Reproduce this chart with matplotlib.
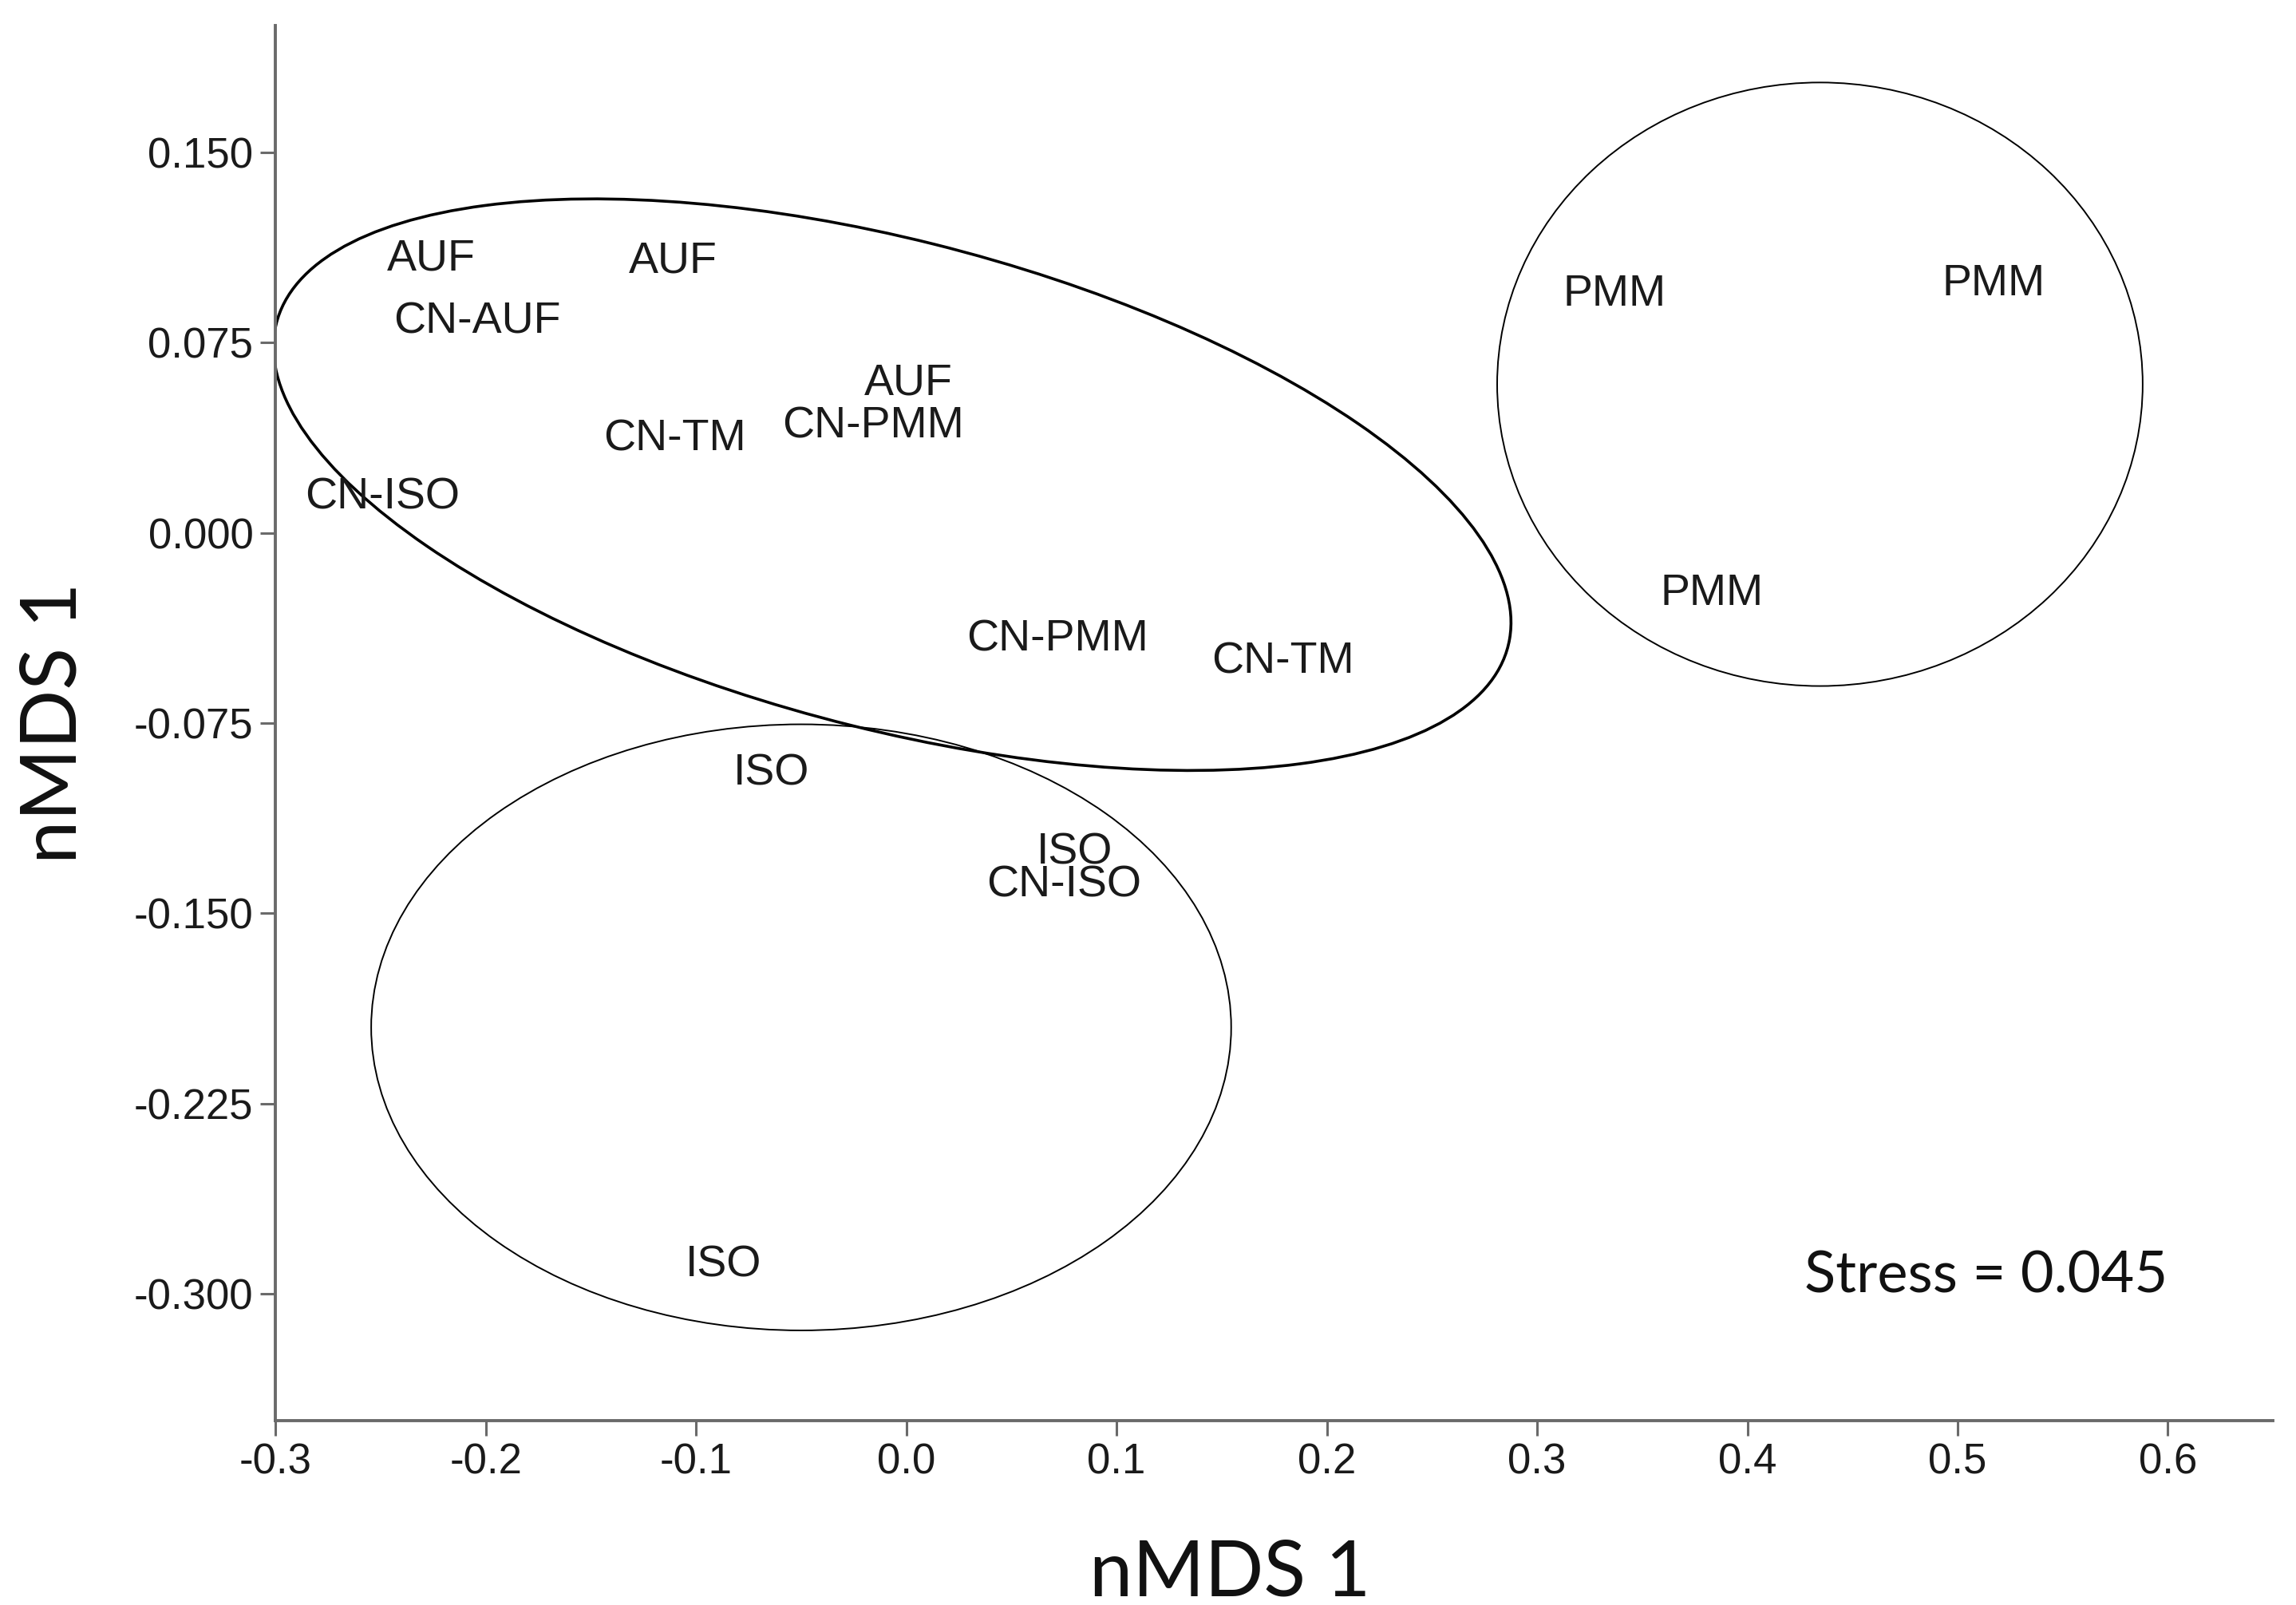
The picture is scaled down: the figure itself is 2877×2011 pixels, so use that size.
import matplotlib.pyplot as plt
from matplotlib.patches import Ellipse

# etiquetas de las muestras y coordenadas nMDS
muestras = ['AUF', 'AUF', 'CN-AUF', 'AUF', 'CN-TM', 'CN-PMM', 'CN-ISO',
            'CN-PMM', 'CN-TM', 'ISO', 'ISO', 'CN-ISO', 'ISO',
            'PMM', 'PMM', 'PMM']
eje_x = [-0.226, -0.111, -0.204, 0.001, -0.110, -0.016, -0.249,
         0.072, 0.179, -0.064, 0.080, 0.075, -0.087,
         0.337, 0.517, 0.383]
eje_y = [0.108, 0.107, 0.083, 0.059, 0.037, 0.042, 0.014,
         -0.042, -0.051, -0.095, -0.126, -0.139, -0.289,
         0.094, 0.098, -0.024]

# elipses de agrupamiento: centro x, centro y, ancho, alto, angulo, grosor
elipse_cx = [-0.0067, -0.050, 0.4345]
elipse_cy = [0.019, -0.195, 0.0586]
elipse_w = [0.5997, 0.409, 0.307]
elipse_h = [0.1938, 0.239, 0.238]
elipse_ang = [-11.7, 0.0, 0.0]
elipse_lw = [2.6, 1.4, 1.4]

ticks_x = [-0.3, -0.2, -0.1, 0.0, 0.1, 0.2, 0.3, 0.4, 0.5, 0.6]
ticks_y = [0.150, 0.075, 0.000, -0.075, -0.150, -0.225, -0.300]

fig = plt.figure(figsize=(28.77, 20.11), dpi=100)
ax = fig.add_axes([0.120, 0.115, 0.870, 0.869])

for i in range(len(muestras)):
    ax.text(eje_x[i], eje_y[i], muestras[i], ha='center', va='center',
            fontsize=40, family='Liberation Sans', color='#1a1a1a')

for i in range(len(elipse_cx)):
    ax.add_patch(Ellipse((elipse_cx[i], elipse_cy[i]), elipse_w[i], elipse_h[i],
                         angle=elipse_ang[i], fill=False, edgecolor='black',
                         linewidth=elipse_lw[i]))

ax.set_xlim(-0.3, 0.65)
ax.set_ylim(-0.35, 0.2)
ax.set_xticks(ticks_x)
ax.set_xticklabels([f'{v:.1f}' for v in ticks_x])
ax.set_yticks(ticks_y)
ax.set_yticklabels([f'{v:.3f}' for v in ticks_y])

for lado in ['top', 'right']:
    ax.spines[lado].set_visible(False)
for lado in ['left', 'bottom']:
    ax.spines[lado].set_color('#6a6a6a')
    ax.spines[lado].set_linewidth(2.8)

ax.tick_params(axis='both', length=14, width=2.2, color='#6a6a6a',
               labelsize=38, labelcolor='#1a1a1a', pad=6)
for etiqueta in ax.get_xticklabels() + ax.get_yticklabels():
    etiqueta.set_family('Liberation Sans')

ax.set_xlabel('nMDS 1', fontsize=70, family='Lato', color='#111111')
ax.set_ylabel('nMDS 1', fontsize=70, family='Lato', color='#111111')
ax.xaxis.set_label_coords(0.478, -0.085)
ax.yaxis.set_label_coords(-0.093, 0.5)

ax.text(0.6, -0.293, 'Stress = 0.045', ha='right', va='center',
        fontsize=52, family='Lato', color='#111111')

plt.savefig('out.png')
